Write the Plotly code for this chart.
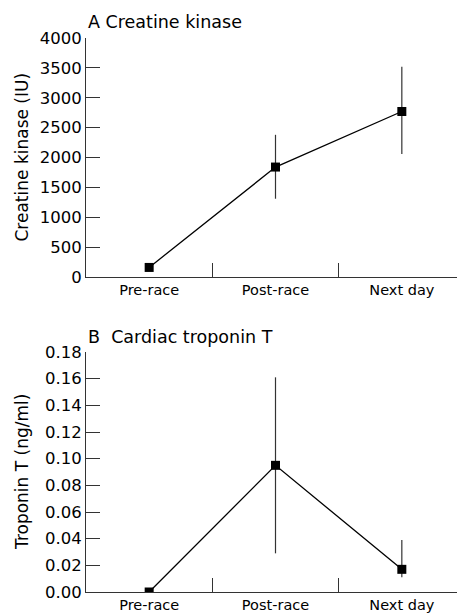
import plotly.graph_objects as go
from plotly.subplots import make_subplots

categories = ["Pre-race", "Post-race", "Next day"]

ck_mean = [160, 1840, 2770]
ck_err_plus = [0, 540, 750]
ck_err_minus = [0, 530, 710]

tnt_mean = [0.000, 0.095, 0.017]
tnt_err_plus = [0, 0.066, 0.022]
tnt_err_minus = [0, 0.066, 0.006]

FONT = "DejaVu Sans"
OFF = 8  # page body margin offset
W, H = 465 - OFF, 616 - OFF
ML, MR, MT, MB = 86 - OFF, 0, 38 - OFF, 24
PH = H - MT - MB

def py(pix):
    # pix is screen y coordinate
    return (H - MB - (pix - OFF)) / PH

fig = make_subplots(rows=2, cols=1)

fig.add_trace(go.Scatter(
    x=categories, y=ck_mean, mode="lines+markers",
    line=dict(color="black", width=1.3),
    marker=dict(symbol="square", size=9, color="black"),
    error_y=dict(type="data", symmetric=False, array=ck_err_plus, arrayminus=ck_err_minus,
                 width=0, thickness=1.2, color="#333333"),
    showlegend=False), row=1, col=1)

fig.add_trace(go.Scatter(
    x=categories, y=tnt_mean, mode="lines+markers",
    line=dict(color="black", width=1.3),
    marker=dict(symbol="square", size=9, color="black"),
    error_y=dict(type="data", symmetric=False, array=tnt_err_plus, arrayminus=tnt_err_minus,
                 width=0, thickness=1.2, color="#333333"),
    showlegend=False), row=2, col=1)

xcommon = dict(type="category", range=[-0.5, 2.5], tickson="boundaries", ticks="inside",
               ticklen=14, tickcolor="#333333", showline=True, linecolor="#333333", linewidth=1,
               showgrid=False, zeroline=False, automargin=False,
               tickfont=dict(family=FONT, size=14.5, color="black"))
ycommon = dict(ticks="inside", ticklen=14, tickcolor="#333333", showline=True, linecolor="#333333",
               linewidth=1, showgrid=False, zeroline=False, automargin=False,
               tickfont=dict(family=FONT, size=16.5, color="black"))

fig.update_xaxes(**xcommon, domain=[0, 1])
fig.update_yaxes(**ycommon)
fig.update_yaxes(range=[0, 4000], dtick=500, domain=[py(277), py(38)], row=1, col=1)
fig.update_yaxes(range=[0, 0.18], dtick=0.02, tickformat=".2f", domain=[py(592), py(352)], row=2, col=1)

tfont = dict(family=FONT, size=17.5, color="black")
yfont = dict(family=FONT, size=17, color="black")
fig.add_annotation(text="A Creatine kinase", xref="paper", yref="paper", x=0, y=py(38),
                   xanchor="left", yanchor="middle", yshift=16, showarrow=False, font=tfont)
fig.add_annotation(text="B  Cardiac troponin T", xref="paper", yref="paper", x=0, y=py(352),
                   xanchor="left", yanchor="middle", yshift=15, showarrow=False, font=tfont)
fig.add_annotation(text="Creatine kinase (IU)", xref="paper", yref="paper", x=0, y=py(157.5),
                   xanchor="center", yanchor="middle", xshift=-64, textangle=-90,
                   showarrow=False, font=yfont)
fig.add_annotation(text="Troponin T (ng/ml)", xref="paper", yref="paper", x=0, y=py(472),
                   xanchor="center", yanchor="middle", xshift=-64, textangle=-90,
                   showarrow=False, font=yfont)

fig.update_layout(width=W, height=H, margin=dict(l=ML, r=MR, t=MT, b=MB),
                  paper_bgcolor="white", plot_bgcolor="white")

fig.write_html("out.html")
